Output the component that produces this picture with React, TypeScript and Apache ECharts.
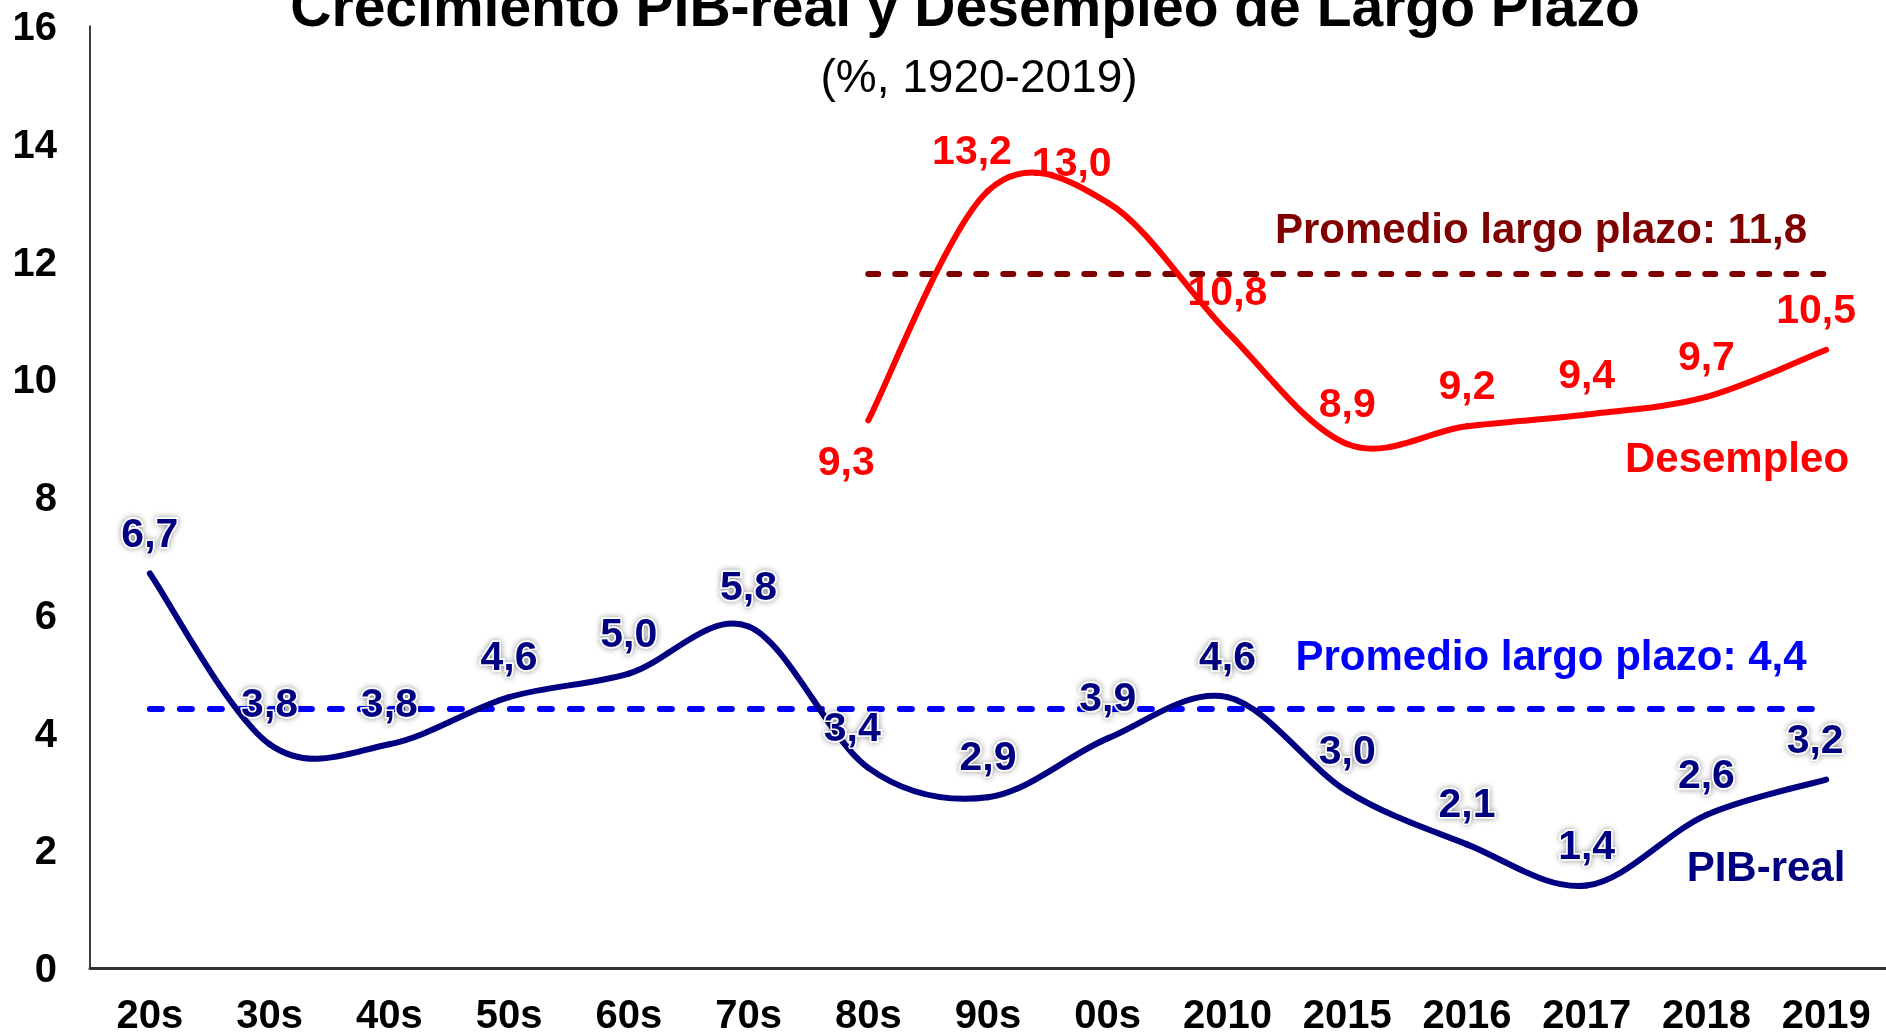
import React, { useEffect, useRef } from "react";
import * as echarts from "echarts";

const categories = ["20s", "30s", "40s", "50s", "60s", "70s", "80s", "90s", "00s", "2010", "2015", "2016", "2017", "2018", "2019"];
const pibReal = [6.7, 3.8, 3.8, 4.6, 5.0, 5.8, 3.4, 2.9, 3.9, 4.6, 3.0, 2.1, 1.4, 2.6, 3.2];
const desempleo = [null, null, null, null, null, null, 9.3, 13.2, 13.0, 10.8, 8.9, 9.2, 9.4, 9.7, 10.5];
const pibAvg = 4.4;
const desAvg = 11.8;
const yTicks = [0, 2, 4, 6, 8, 10, 12, 14, 16];

const FONT = "'Liberation Sans', Arial, sans-serif";
const fmt = (v: number) => v.toFixed(1).replace(".", ",");

const pibLabelOffsets: Record<number, number[]> = { 6: [-16, 0], 14: [-11, 0] };
const desLabelOverrides: Record<number, any> = {
  6: { position: "bottom", offset: [-22, 0] },
  7: { offset: [-16, 0] },
  8: { offset: [-36, 0] },
  14: { offset: [-10, 0] },
};

// Excel-like (Catmull-Rom) smoothed curve drawn through the axis scales
function curveSeries(values: (number | null)[], color: string) {
  const xs: number[] = [];
  const ys: number[] = [];
  values.forEach((v, i) => {
    if (v != null) {
      xs.push(i);
      ys.push(v);
    }
  });
  const n = xs.length;
  return {
    type: "custom",
    data: xs.map((x, i) => [x, ys[i]]),
    encode: { x: 0, y: 1 },
    clip: false,
    silent: true,
    z: 3,
    renderItem: (params: any, api: any) => {
      const i = params.dataIndex;
      if (i >= n - 1) return { type: "group", children: [] };
      const P = (k: number) => {
        const kk = Math.max(0, Math.min(n - 1, k));
        return api.coord([xs[kk], ys[kk]]);
      };
      const p0 = P(i - 1), p1 = P(i), p2 = P(i + 1), p3 = P(i + 2);
      const c1 = [p1[0] + (p2[0] - p0[0]) / 6, p1[1] + (p2[1] - p0[1]) / 6];
      const c2 = [p2[0] - (p3[0] - p1[0]) / 6, p2[1] - (p3[1] - p1[1]) / 6];
      return {
        type: "bezierCurve",
        shape: { x1: p1[0], y1: p1[1], x2: p2[0], y2: p2[1], cpx1: c1[0], cpy1: c1[1], cpx2: c2[0], cpy2: c2[1] },
        style: { stroke: color, lineWidth: 6, fill: null, lineCap: "round" },
      };
    },
  };
}

export default function App() {
  const ref = useRef<HTMLDivElement>(null);
  useEffect(() => {
    if (!ref.current) return;
    const chart = echarts.init(ref.current, null, { renderer: "svg" });
    const pibData = pibReal.map((v, i) =>
      pibLabelOffsets[i] ? { value: v, label: { offset: pibLabelOffsets[i] } } : v
    );
    const desData = desempleo.map((v, i) =>
      v == null ? null : desLabelOverrides[i] ? { value: v, label: desLabelOverrides[i] } : v
    );
    chart.setOption({
      animation: false,
      textStyle: { fontFamily: FONT },
      grid: { left: 90, right: -2, top: 26, bottom: 68, containLabel: false },
      xAxis: {
        type: "category",
        data: categories,
        boundaryGap: true,
        axisTick: { show: false },
        axisLine: { lineStyle: { color: "#333", width: 3 } },
        axisLabel: { fontSize: 40, fontWeight: "bold", color: "#000", margin: 26, fontFamily: FONT, interval: 0 },
      },
      yAxis: {
        type: "value",
        min: yTicks[0],
        max: yTicks[yTicks.length - 1],
        interval: 2,
        splitLine: { show: false },
        axisTick: { show: false },
        axisLine: { show: true, lineStyle: { color: "#000", width: 1.5 } },
        axisLabel: { fontSize: 40, fontWeight: "bold", color: "#000", margin: 33, fontFamily: FONT },
      },
      graphic: [
        {
          type: "text", x: 965, y: 6,
          style: { text: "Crecimiento PIB-real y Desempleo de Largo Plazo", font: `bold 57px ${FONT}`, fill: "#000", align: "center", verticalAlign: "middle" },
        },
        {
          type: "text", x: 979, y: 76,
          style: { text: "(%, 1920-2019)", font: `46px ${FONT}`, fill: "#000", align: "center", verticalAlign: "middle" },
        },
        {
          type: "text", x: 1541, y: 228,
          style: { text: "Promedio largo plazo: " + fmt(desAvg), font: `bold 42px ${FONT}`, fill: "#800000", align: "center", verticalAlign: "middle" },
        },
        {
          type: "text", x: 1551, y: 655,
          style: { text: "Promedio largo plazo: " + fmt(pibAvg), font: `bold 42px ${FONT}`, fill: "#0000FF", align: "center", verticalAlign: "middle" },
        },
        {
          type: "text", x: 1737, y: 457,
          style: { text: "Desempleo", font: `bold 42px ${FONT}`, fill: "#FF0000", align: "center", verticalAlign: "middle" },
        },
        {
          type: "text", x: 1766, y: 866,
          style: { text: "PIB-real", font: `bold 42px ${FONT}`, fill: "#000080", align: "center", verticalAlign: "middle" },
        },
      ],
      series: [
        curveSeries(pibReal, "#000080"),
        curveSeries(desempleo, "#FF0000"),
        {
          name: "PIB-real",
          type: "scatter",
          data: pibData,
          symbolSize: 1,
          z: 5,
          itemStyle: { color: "rgba(0,0,0,0)", opacity: 1 },
          label: {
            show: true,
            position: "top",
            distance: 20,
            formatter: (p: any) => fmt(p.value),
            fontSize: 41,
            fontWeight: "bold",
            fontFamily: FONT,
            color: "#000080",
            opacity: 1,
            textBorderColor: "#fff",
            textBorderWidth: 3,
            textShadowColor: "rgba(0,0,0,0.45)",
            textShadowBlur: 6,
          },
          markLine: {
            silent: true,
            symbol: "none",
            z: 2,
            label: { show: false },
            lineStyle: { color: "#0000FF", width: 6, type: [12, 18], cap: "round", opacity: 1 },
            data: [[{ coord: [categories[0], pibAvg] }, { coord: [categories[categories.length - 1], pibAvg] }]],
          },
        },
        {
          name: "Desempleo",
          type: "scatter",
          data: desData,
          symbolSize: 1,
          z: 5,
          itemStyle: { color: "rgba(0,0,0,0)", opacity: 1 },
          label: {
            show: true,
            position: "top",
            distance: 20,
            formatter: (p: any) => fmt(p.value),
            fontSize: 41,
            fontWeight: "bold",
            fontFamily: FONT,
            color: "#FF0000",
            opacity: 1,
          },
          markLine: {
            silent: true,
            symbol: "none",
            z: 2,
            label: { show: false },
            lineStyle: { color: "#800000", width: 6, type: [10, 17], cap: "round", opacity: 1 },
            data: [[{ coord: [categories[6], desAvg] }, { coord: [categories[categories.length - 1], desAvg] }]],
          },
        },
      ],
    });
    return () => chart.dispose();
  }, []);
  return <div ref={ref} style={{ position: "fixed", left: 0, top: 0, width: 1886, height: 1036 }} />;
}
